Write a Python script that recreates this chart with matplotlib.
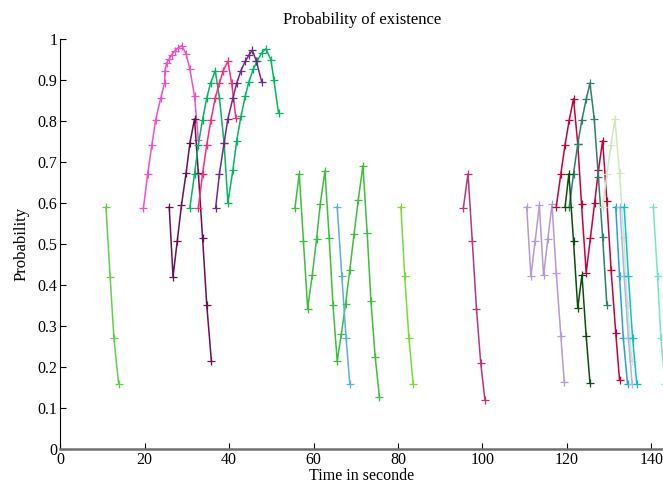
import matplotlib
matplotlib.use("Agg")
import matplotlib.pyplot as plt

plt.rcParams['font.family'] = ['Liberation Serif', 'DejaVu Serif']

# ---- data (time in s, probability) ----
lg1_t = [10.8, 11.8, 12.7, 13.8]
lg1_p = [0.591, 0.421, 0.270, 0.160]

pink_t = [19.7, 20.7, 21.7, 22.6, 23.8, 24.7, 24.8, 25.2, 25.8, 26.4, 27.2, 27.9, 28.8, 29.8, 30.7, 31.8, 32.7]
pink_p = [0.589, 0.672, 0.743, 0.804, 0.857, 0.893, 0.924, 0.942, 0.952, 0.963, 0.972, 0.979, 0.985, 0.964, 0.927, 0.861, 0.755]

maroon_t = [25.8, 26.7, 27.7, 28.7, 29.8, 30.7, 31.8, 32.7, 33.7, 34.7, 35.8]
maroon_p = [0.591, 0.421, 0.507, 0.595, 0.674, 0.747, 0.806, 0.674, 0.516, 0.351, 0.214]

green1_t = [30.7, 31.8, 32.7, 33.7, 34.7, 35.6, 36.7, 37.7, 38.8, 39.7, 40.9, 41.8, 42.8, 43.8, 44.7, 45.7, 46.7, 47.7, 48.7, 49.9, 50.6, 51.7]
green1_p = [0.589, 0.672, 0.743, 0.804, 0.857, 0.893, 0.924, 0.857, 0.747, 0.601, 0.682, 0.753, 0.812, 0.861, 0.897, 0.927, 0.948, 0.967, 0.977, 0.950, 0.901, 0.820]

red_t = [32.7, 33.7, 34.7, 35.7, 36.7, 37.7, 38.6, 39.7, 40.6, 41.6]
red_p = [0.589, 0.672, 0.743, 0.804, 0.857, 0.893, 0.924, 0.946, 0.893, 0.808]

purple_t = [36.8, 37.7, 38.8, 39.7, 40.9, 41.8, 42.8, 43.8, 44.7, 45.5, 46.4, 47.7]
purple_p = [0.589, 0.672, 0.747, 0.806, 0.857, 0.893, 0.924, 0.946, 0.962, 0.974, 0.948, 0.897]

green2_t = [55.6, 56.6, 57.6, 58.6, 59.7, 60.7, 61.6, 62.7, 63.7, 64.6, 65.6, 66.6, 67.6, 68.6, 69.6, 70.6, 71.7, 72.7, 73.6, 74.6, 75.6]
green2_p = [0.589, 0.672, 0.509, 0.343, 0.425, 0.512, 0.599, 0.679, 0.516, 0.352, 0.215, 0.282, 0.355, 0.438, 0.525, 0.609, 0.692, 0.528, 0.361, 0.225, 0.128]

blue1_t = [65.6, 66.7, 67.7, 68.6]
blue1_p = [0.591, 0.422, 0.272, 0.158]

lg2_t = [80.7, 81.6, 82.6, 83.6]
lg2_p = [0.591, 0.422, 0.271, 0.158]

mag_t = [95.5, 96.6, 97.6, 98.6, 99.6, 100.6]
mag_p = [0.589, 0.672, 0.509, 0.343, 0.211, 0.120]

lav_t = [110.5, 111.5, 112.5, 113.5, 114.5, 115.5, 116.5, 117.5, 118.6, 119.4]
lav_p = [0.591, 0.422, 0.507, 0.595, 0.424, 0.512, 0.597, 0.430, 0.276, 0.164]

crim_t = [117.5, 118.6, 119.6, 120.6, 121.6, 122.6, 123.5, 124.6, 125.6, 126.6, 127.5, 128.5, 129.5, 130.5, 131.6, 132.5]
crim_p = [0.591, 0.672, 0.743, 0.804, 0.855, 0.745, 0.597, 0.430, 0.515, 0.601, 0.680, 0.753, 0.605, 0.437, 0.284, 0.168]

dkg_t = [119.6, 120.5, 121.6, 122.6, 123.6, 124.6, 125.5]
dkg_p = [0.591, 0.672, 0.507, 0.344, 0.425, 0.275, 0.161]

teal_t = [120.6, 121.6, 122.6, 123.6, 124.6, 125.5, 126.5, 127.5, 128.5, 129.5]
teal_p = [0.591, 0.672, 0.745, 0.804, 0.854, 0.893, 0.806, 0.663, 0.517, 0.351]

pale_t = [128.5, 129.5, 130.5, 131.4, 132.5, 133.5, 134.4, 135.4]
pale_p = [0.591, 0.672, 0.743, 0.806, 0.674, 0.517, 0.351, 0.216]

blue2_t = [131.6, 132.5, 133.4, 134.4]
blue2_p = [0.591, 0.422, 0.270, 0.158]

peri_t = [132.6, 133.6, 134.6, 135.5]
peri_p = [0.591, 0.422, 0.270, 0.158]

cyan_t = [133.6, 134.6, 135.6, 136.6]
cyan_p = [0.591, 0.422, 0.270, 0.158]

aqua_t = [140.5, 141.5, 142.3, 143.3]
aqua_p = [0.591, 0.422, 0.270, 0.158]

series = [
    (lg1_t, lg1_p, '#62d14a'),
    (pink_t, pink_p, '#f050c8'),
    (maroon_t, maroon_p, '#6a1052'),
    (green1_t, green1_p, '#00b860'),
    (red_t, red_p, '#ff2a78'),
    (purple_t, purple_p, '#6e2a84'),
    (green2_t, green2_p, '#3cbf3c'),
    (blue1_t, blue1_p, '#5ab0e0'),
    (lg2_t, lg2_p, '#78dc32'),
    (mag_t, mag_p, '#b8367e'),
    (lav_t, lav_p, '#b59ad6'),
    (crim_t, crim_p, '#c8003c'),
    (teal_t, teal_p, '#2a8068'),
    (dkg_t, dkg_p, '#0b4d0b'),
    (pale_t, pale_p, '#d0e8c0'),
    (blue2_t, blue2_p, '#28a0d8'),
    (peri_t, peri_p, '#a8b4f0'),
    (cyan_t, cyan_p, '#10c0c8'),
    (aqua_t, aqua_p, '#70e8c8'),
]

xticks = [0, 20, 40, 60, 80, 100, 120, 140]
yticks = [0, 0.1, 0.2, 0.3, 0.4, 0.5, 0.6, 0.7, 0.8, 0.9, 1]
ytick_labels = ['0', '0.1', '0.2', '0.3', '0.4', '0.5', '0.6', '0.7', '0.8', '0.9', '1']

fig = plt.figure(figsize=(6.63, 4.86), dpi=100)
ax = fig.add_axes([0.091, 0.076, 0.909, 0.843])

for t, p, c in series:
    ax.plot(t, p, color=c, lw=1.1, marker='+', markersize=6, markeredgewidth=0.9)

ax.set_xlim(0, 142.8)
ax.set_ylim(0, 1)
ax.set_xticks(xticks)
ax.set_xticklabels([str(v) for v in xticks])
ax.set_yticks(yticks)
ax.set_yticklabels(ytick_labels, va='center_baseline')
ax.tick_params(direction='in', length=4, width=0.8, labelsize=11.5)
ax.tick_params(axis='x', pad=2)
ax.tick_params(axis='y', pad=2)
ax.spines['top'].set_visible(False)
ax.spines['right'].set_visible(False)
ax.spines['left'].set_color('black')
ax.spines['left'].set_linewidth(0.8)
ax.spines['bottom'].set_color('#707070')
ax.spines['bottom'].set_linewidth(1.8)

ax.set_title('Probability of existence', fontsize=12, pad=11)
ax.set_xlabel('Time in seconde', fontsize=11.5, labelpad=0)
ax.set_ylabel('Probability', fontsize=12, labelpad=6)

fig.savefig('out.png', dpi=100)
